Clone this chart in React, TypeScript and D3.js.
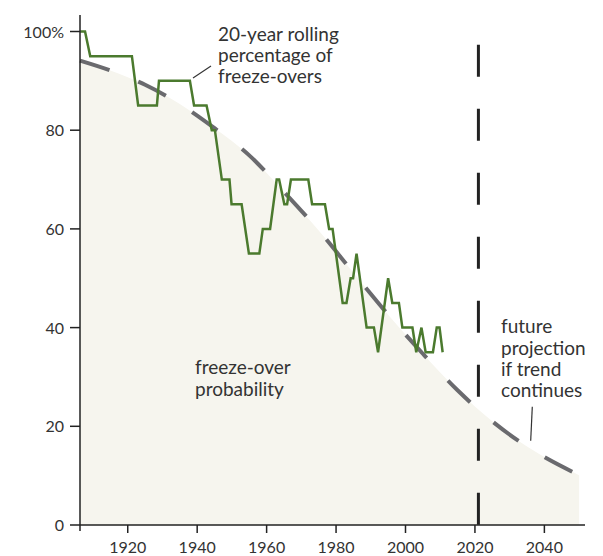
import React from "react";
import * as d3 from "d3";

const greenYears = [1906.3, 1907.7, 1909.2, 1921.2, 1923.0, 1928.4, 1929.0, 1937.9, 1939.1, 1942.7, 1944.2, 1945.1, 1947.1, 1949.3, 1949.9, 1952.8, 1954.9, 1957.9, 1958.9, 1961.0, 1962.9, 1963.6, 1965.1, 1965.9, 1967.0, 1972.0, 1973.1, 1976.8, 1978.0, 1979.0, 1981.9, 1983.0, 1984.2, 1984.9, 1985.9, 1988.8, 1990.9, 1992.1, 1995.0, 1996.2, 1998.1, 1999.1, 2002.0, 2003.1, 2004.6, 2005.8, 2007.9, 2009.0, 2009.8, 2010.7];
const greenValues = [100, 100, 95, 95, 85, 85, 90, 90, 85, 85, 80, 80, 70, 70, 65, 65, 55, 55, 60, 60, 70, 70, 65, 65, 70, 70, 65, 65, 60, 60, 45, 45, 50, 50, 55, 40, 40, 35, 50, 45, 45, 40, 40, 35, 40, 35, 35, 40, 40, 35];

const trendYears = [1906.25, 1915, 1925, 1935, 1945, 1955, 1965, 1975, 1985, 1995, 2005, 2015, 2025, 2035, 2050];
const trendValues = [94.1, 92.1, 89.2, 85.3, 80.4, 74.9, 67.5, 59.7, 51.1, 42.6, 34.7, 27.3, 21.0, 15.9, 10.1];

const xTicks = [1920, 1940, 1960, 1980, 2000, 2020, 2040];
const yTicks = [0, 20, 40, 60, 80, 100];
const yTickLabels = ["0", "20", "40", "60", "80", "100%"];

const projectionYear = 2021;
const projectionTop = 97.3;

const annoRolling = ["20-year rolling", "percentage of", "freeze-overs"];
const annoProb = ["freeze-over", "probability"];
const annoFuture = ["future", "projection", "if trend", "continues"];

const FONT = "Lato, 'Noto Sans', sans-serif";
const TEXT = "#333333";

export default function App() {
  const x = d3.scaleLinear().domain([1906.25, 2051.7]).range([80, 585]);
  const y = d3.scaleLinear().domain([0, 100]).range([525, 31.5]);

  const trend = trendYears.map((t, i) => [t, trendValues[i]] as [number, number]);
  const green = greenYears.map((t, i) => [t, greenValues[i]] as [number, number]);

  const line = d3.line<[number, number]>().x(d => x(d[0])).y(d => y(d[1])).curve(d3.curveMonotoneX);
  const area = d3.area<[number, number]>().x(d => x(d[0])).y0(y(0)).y1(d => y(d[1])).curve(d3.curveMonotoneX);
  const gLine = d3.line<[number, number]>().x(d => x(d[0])).y(d => y(d[1]));

  const lh = 21.3;

  return (
    <svg width={603} height={556} style={{ position: "absolute", left: 0, top: 0 }} fontFamily={FONT}>
      <rect width={603} height={556} fill="#ffffff" />
      <path d={area(trend) || ""} fill="#f6f5ee" />
      <path d={line(trend) || ""} fill="none" stroke="#6a6a6e" strokeWidth={4} strokeDasharray="31 31" />
      <path d={gLine(green) || ""} fill="none" stroke="#4b7a2e" strokeWidth={2.5} strokeLinejoin="miter" />
      <line x1={x(projectionYear)} x2={x(projectionYear)} y1={y(projectionTop)} y2={y(0)} stroke="#222" strokeWidth={3} strokeDasharray="32 32" />

      {/* axes */}
      <line x1={80} x2={80} y1={15} y2={531} stroke="#222" strokeWidth={1.5} />
      <line x1={80} x2={585} y1={y(0)} y2={y(0)} stroke="#222" strokeWidth={1.5} />
      {yTicks.map((t, i) => (
        <g key={"y" + t}>
          <line x1={70} x2={80} y1={y(t)} y2={y(t)} stroke="#222" strokeWidth={1.5} />
          <text x={64} y={y(t) + 6} textAnchor="end" fontSize={16} fill={TEXT}>{yTickLabels[i]}</text>
        </g>
      ))}
      {xTicks.map(t => (
        <g key={"x" + t}>
          <line x1={x(t)} x2={x(t)} y1={y(0)} y2={y(0) + 8} stroke="#222" strokeWidth={1.5} />
          <text x={x(t)} y={553} textAnchor="middle" fontSize={16} fill={TEXT}>{t}</text>
        </g>
      ))}

      {/* annotations */}
      <line x1={193} y1={78} x2={211} y2={66} stroke="#333" strokeWidth={1.2} />
      {annoRolling.map((s, i) => (
        <text key={s} x={218} y={40.7 + i * lh} fontSize={19} fill={TEXT}>{s}</text>
      ))}
      {annoProb.map((s, i) => (
        <text key={s} x={195} y={374.3 + i * lh} fontSize={19} fill={TEXT}>{s}</text>
      ))}
      {annoFuture.map((s, i) => (
        <text key={s} x={501} y={333.3 + i * lh} fontSize={19} fill={TEXT}>{s}</text>
      ))}
      <line x1={532.3} y1={406.7} x2={530.7} y2={440.7} stroke="#333" strokeWidth={1.2} />
    </svg>
  );
}
